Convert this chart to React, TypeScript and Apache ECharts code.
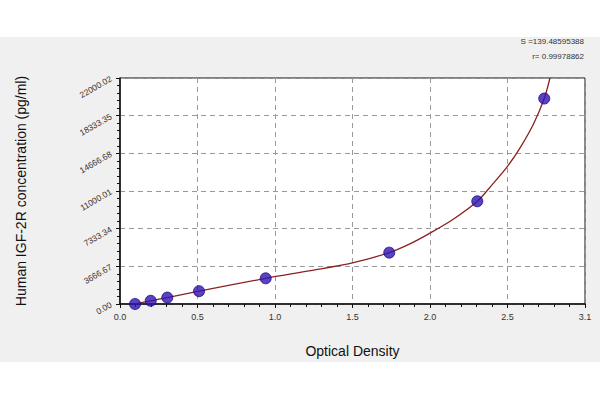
import React, { useEffect, useRef } from "react";
import * as echarts from "echarts";

// Standards (measured points)
const pointOD = [0.097, 0.198, 0.305, 0.51, 0.94, 1.737, 2.305, 2.737];
const pointConc = [0, 312.5, 625, 1250, 2500, 5000, 10000, 20000];

// Fitted curve
const curveOD = [0.097, 0.198, 0.305, 0.51, 0.94, 1.23, 1.5, 1.737, 1.87, 2.0, 2.15, 2.305, 2.4, 2.5, 2.585, 2.67, 2.737, 2.774];
const curveConc = [0, 312.5, 625, 1250, 2500, 3250, 4000, 5000, 5850, 6900, 8250, 10000, 11600, 13400, 15300, 17600, 20000, 22000];

const xTickLabels = ["0.0", "0.5", "1.0", "1.5", "2.0", "2.5", "3.1"];
const yTickLabels = ["0.00", "3666.67", "7333.34", "11000.01", "14666.68", "18333.35", "22000.02"];
const statLines = ["S =139.48595388", "r= 0.99978862"];

const xTitle = "Optical Density";
const yTitle = "Human IGF-2R concentration (pg/ml)";

export default function App() {
  const ref = useRef<HTMLDivElement>(null);
  useEffect(() => {
    if (!ref.current) return;
    const chart = echarts.init(ref.current, null, { renderer: "svg" });
    const font = "Arial, 'Liberation Sans', sans-serif";
    chart.setOption({
      animation: false,
      grid: {
        left: 120,
        right: 15,
        top: 78,
        bottom: 96,
        show: true,
        backgroundColor: "#ffffff",
        borderColor: "#111",
        borderWidth: 1,
      },
      xAxis: {
        type: "value",
        min: 0,
        max: 3,
        interval: 0.5,
        name: xTitle,
        nameLocation: "middle",
        nameGap: 40,
        nameTextStyle: { fontSize: 14, color: "#111", fontFamily: font },
        axisLine: { show: true, lineStyle: { color: "#111", width: 1.5 } },
        axisTick: { show: true, length: 4, lineStyle: { color: "#111" } },
        minorTick: { show: true, splitNumber: 5, length: 3, lineStyle: { color: "#111" } },
        splitLine: { show: true, lineStyle: { color: "#999", type: [5, 4], width: 1 } },
        axisLabel: {
          fontSize: 9,
          color: "#333",
          fontFamily: font,
          margin: 8,
          formatter: (v: number) => xTickLabels[Math.round(v / 0.5)] ?? "",
        },
      },
      yAxis: {
        type: "value",
        min: 0,
        max: 22000.02,
        interval: 3666.67,
        name: yTitle,
        nameLocation: "middle",
        nameGap: 92,
        nameRotate: 90,
        nameTextStyle: { fontSize: 14, color: "#111", fontFamily: font },
        axisLine: { show: true, lineStyle: { color: "#111", width: 1.5 } },
        axisTick: { show: true, length: 4, lineStyle: { color: "#111" } },
        minorTick: { show: true, splitNumber: 5, length: 3, lineStyle: { color: "#111" } },
        splitLine: { show: true, lineStyle: { color: "#999", type: [5, 4], width: 1 } },
        axisLabel: {
          fontSize: 8.5,
          color: "#333",
          fontFamily: font,
          rotate: 30,
          margin: 9,
          formatter: (v: number) => yTickLabels[Math.round(v / 3666.67)] ?? "",
        },
      },
      graphic: statLines.map((t, i) => ({
        type: "text",
        right: 16,
        top: 37 + i * 15,
        style: { text: t, fontSize: 8, fill: "#333", fontFamily: font },
      })),
      series: [
        {
          type: "line",
          data: curveOD.map((x, i) => [x, curveConc[i]]),
          smooth: 0.3,
          showSymbol: false,
          clip: true,
          lineStyle: { color: "#8b2222", width: 1.3 },
          z: 2,
        },
        {
          type: "scatter",
          data: pointOD.map((x, i) => [x, pointConc[i]]),
          symbol: "circle",
          symbolSize: 11,
          itemStyle: { color: "#3014b4", borderColor: "#1c0a80", borderWidth: 1 },
          z: 3,
        },
      ],
    });
    return () => chart.dispose();
  }, []);
  return (
    <div
      ref={ref}
      style={{
        position: "fixed",
        left: 0,
        top: 0,
        width: 600,
        height: 400,
        background: "linear-gradient(to bottom, #ffffff 0px, #ffffff 37px, #f0f0f0 37px, #f0f0f0 362px, #ffffff 362px)",
      }}
    />
  );
}
